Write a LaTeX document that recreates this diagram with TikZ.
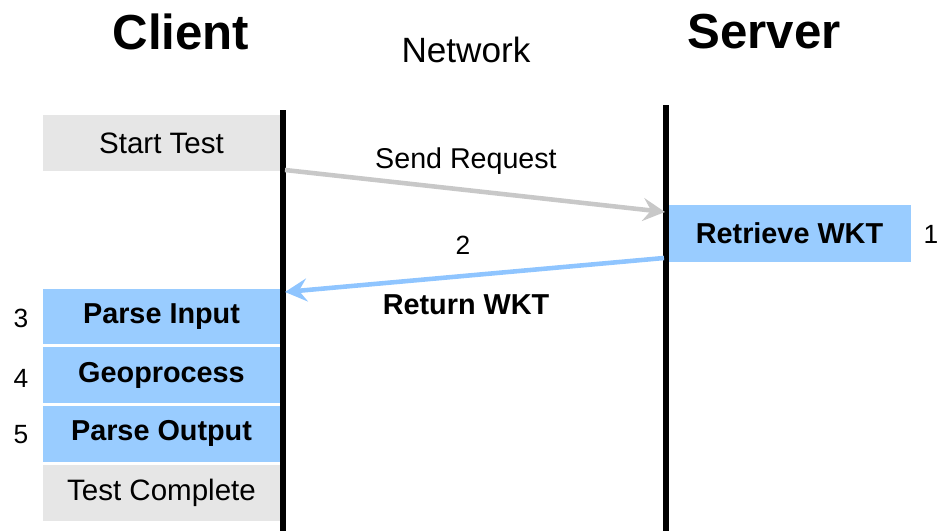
\documentclass[tikz,border=0pt]{standalone}
\usepackage{fontspec}
\setmainfont{Liberation Sans}
\usepackage{tikz}
\usetikzlibrary{arrows.meta,positioning}
\definecolor{stepblue}{HTML}{99CCFF}
\definecolor{arrowblue}{HTML}{8FC5FF}
\definecolor{stepgray}{HTML}{E6E6E6}
\definecolor{arrowgray}{HTML}{C8C8C8}

\begin{document}
\begin{tikzpicture}[x=0.02cm,y=-0.02cm,
    lifeline/.style={line width=3.2pt,black},
    msg/.style={line width=2.6pt,-{Stealth[length=0.44cm,width=0.46cm,inset=0.16cm]}},
    stepbox/.style={minimum width=4.74cm,minimum height=1.12cm,inner sep=0pt,
      font=\fontsize{16.4}{19}\selectfont\bfseries},
    plainbox/.style={stepbox,font=\fontsize{16.8}{20}\selectfont},
    header/.style={font=\fontsize{28}{32}\selectfont\bfseries},
    num/.style={font=\fontsize{15}{18}\selectfont},
    node distance=0.04cm]
  \useasboundingbox (0,0) rectangle (937,531);

  % column headings
  \node[header] (client) at (181,32) {Client};
  \node[font=\fontsize{20}{24}\selectfont] (network) at (466,50) {Network};
  \node[header] (server) at (764,32) {Server};

  % lifelines
  \coordinate (clientTop) at (283,110);
  \coordinate (clientBot) at (283,531);
  \coordinate (serverTop) at (666,105);
  \coordinate (serverBot) at (666,531);

  % client side steps
  \node[plainbox,fill=stepgray] (start) at (161.5,143) {Start Test};
  \node[stepbox,fill=stepblue] (pin) at (161.5,316.5) {Parse Input};
  \node[stepbox,fill=stepblue,below=of pin] (geo) {Geoprocess};
  \node[stepbox,fill=stepblue,below=of geo] (pout) {Parse Output};
  \node[plainbox,fill=stepgray,below=of pout] (done) {Test Complete};

  % server side step
  \node[stepbox,fill=stepblue,minimum width=4.86cm,minimum height=1.14cm] (wkt) at (789.5,233.5) {Retrieve WKT};

  \draw[lifeline] (clientTop) -- (clientBot);
  \draw[lifeline] (serverTop) -- (serverBot);

  % messages
  \coordinate (reqFrom) at (285,170);
  \coordinate (reqTo) at (665,212);
  \coordinate (retFrom) at (664,258);
  \coordinate (retTo) at (285,292);
  \draw[msg,arrowgray] (reqFrom) -- (reqTo);
  \draw[msg,arrowblue] (retFrom) -- (retTo);
  \node[font=\fontsize{16.3}{19}\selectfont] (reqlbl) at (466,161) {Send Request};
  \node[stepbox,minimum width=0pt,minimum height=0pt] (retlbl) at (466,305) {Return WKT};

  % step numbers
  \node[num] (n1) at (931,234) {1};
  \node[num] (n2) at (463,245) {2};
  \node[num] (n3) at (21,318) {3};
  \node[num] (n4) at (21,378) {4};
  \node[num] (n5) at (21,435) {5};
\end{tikzpicture}
\end{document}
